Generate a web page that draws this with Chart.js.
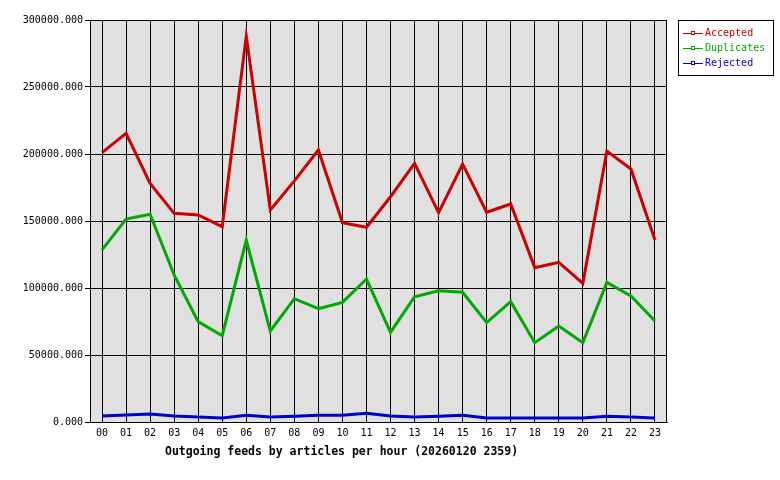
<!DOCTYPE html>
<html>
<head>
<meta charset="utf-8">
<script src="https://cdn.jsdelivr.net/npm/chart.js@4"></script>
<style>
  body { margin: 0; background: #fff; }
  canvas { display: block; }
</style>
</head>
<body>
<canvas id="feedsChart" width="780" height="480"></canvas>
<script>
// data

const hours = ['00','01','02','03','04','05','06','07','08','09','10','11',
               '12','13','14','15','16','17','18','19','20','21','22','23'];

const accepted = [201000, 215400, 178100, 155700, 154500, 145800, 288000, 158200,
                  179900, 203000, 148700, 145300, 168100, 193000, 156200, 192500,
                  156500, 162700, 115200, 119200, 103500, 202200, 188800, 135800];

const duplicates = [128400, 151500, 155000, 109700, 74900, 64400, 135800, 67900,
                    92000, 84600, 89300, 106700, 66900, 93500, 98000, 96800,
                    74100, 89800, 59200, 71600, 59200, 104200, 94000, 75400];

const rejected = [4500, 5200, 6000, 4500, 3700, 3000, 5000, 3700,
                  4200, 5000, 5000, 6500, 4500, 3700, 4200, 5000,
                  3000, 3000, 3000, 3000, 3000, 4200, 3700, 3000];

const yTicks = [0, 50000, 100000, 150000, 200000, 250000, 300000];

const chartTitle = 'Outgoing feeds by articles per hour (20260120 2359)';

const monoFont = "'DejaVu Sans Mono', 'Liberation Mono', monospace";

// grey plot background + frame
const plotFrame = {
    id: 'plotFrame',
    beforeDraw(chart) {
        const a = chart.chartArea;
        const ctx = chart.ctx;
        ctx.save();
        ctx.fillStyle = '#e0e0e0';
        ctx.fillRect(a.left, a.top, a.right - a.left, a.bottom - a.top);
        ctx.restore();
    },
    afterDraw(chart) {
        const a = chart.chartArea;
        const ctx = chart.ctx;
        ctx.save();
        ctx.strokeStyle = '#000';
        ctx.lineWidth = 1;
        ctx.strokeRect(Math.round(a.left) + 0.5, Math.round(a.top) + 0.5,
                       Math.round(a.right - a.left) - 1, Math.round(a.bottom - a.top));

        // title under the x axis
        ctx.font = 'bold 11.5px ' + monoFont;
        ctx.fillStyle = '#000';
        ctx.textBaseline = 'middle';
        ctx.textAlign = 'left';
        ctx.fillText(chartTitle, 165, 452);

        // legend box
        ctx.fillStyle = '#fff';
        ctx.fillRect(678, 20, 95, 55);
        ctx.strokeRect(678.5, 20.5, 95, 55);
        ctx.font = '10px ' + monoFont;
        chart.data.datasets.forEach((ds, i) => {
            const y = 33 + i * 15 + 0.5;
            ctx.strokeStyle = ds.borderColor;
            ctx.lineWidth = 1;
            ctx.beginPath();
            ctx.moveTo(683, y);
            ctx.lineTo(703, y);
            ctx.stroke();
            ctx.fillStyle = '#fff';
            ctx.fillRect(691, y - 2, 4, 3);
            ctx.strokeRect(691.5, y - 2, 3, 3);
            ctx.fillStyle = ds.borderColor;
            ctx.fillText(ds.label, 705, y);
        });
        ctx.restore();
    }
};

new Chart(document.getElementById('feedsChart'), {
    type: 'line',
    data: {
        labels: hours,
        datasets: [
            { label: 'Accepted', data: accepted, borderColor: '#cc0000' },
            { label: 'Duplicates', data: duplicates, borderColor: '#00aa00' },
            { label: 'Rejected', data: rejected, borderColor: '#0000cc' }
        ]
    },
    options: {
        responsive: false,
        animation: false,
        layout: { padding: { top: 20, right: 113, bottom: 0, left: 0 } },
        elements: {
            line: { borderWidth: 3, tension: 0 },
            point: { radius: 0 }
        },
        plugins: {
            legend: { display: false },
            tooltip: { enabled: false }
        },
        scales: {
            x: {
                offset: true,
                grid: { color: '#000', offset: false, drawTicks: false },
                border: { color: '#000' },
                ticks: { color: '#000', font: { family: monoFont, size: 10 }, padding: 5,
                         maxRotation: 0, autoSkip: false },
                afterFit(s) { s.height = 58; }
            },
            y: {
                min: 0,
                max: 300000,
                afterBuildTicks(s) { s.ticks = yTicks.map(v => ({ value: v })); },
                grid: { color: '#000', tickLength: 5 },
                border: { color: '#000' },
                ticks: {
                    color: '#000',
                    font: { family: monoFont, size: 10 },
                    padding: 2,
                    callback: v => v.toFixed(3)
                },
                afterFit(s) { s.width = 90; }
            }
        }
    },
    plugins: [plotFrame]
});
</script>
</body>
</html>
